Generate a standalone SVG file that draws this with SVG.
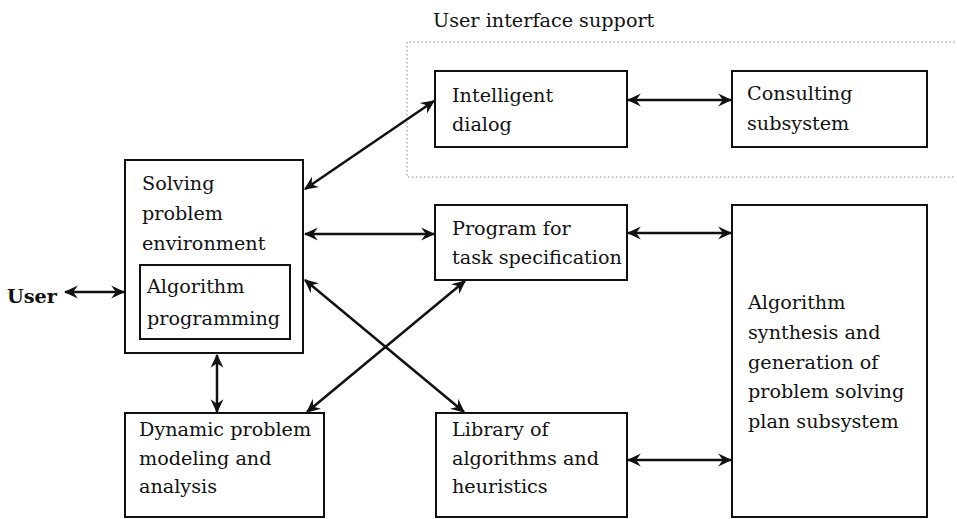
<svg xmlns="http://www.w3.org/2000/svg" width="957" height="519" viewBox="0 0 957 519">
<style>
text{font-family:'DejaVu Serif','Liberation Serif',serif;font-size:19.2px;fill:#111}
.b{font-weight:bold}
.box{fill:#fff;stroke:#111;stroke-width:2}
.c{fill:none;stroke:#111;stroke-width:2.5;marker-start:url(#ah);marker-end:url(#ah)}
.dot{fill:none;stroke:#888;stroke-width:1;stroke-dasharray:1.5 2.5}
</style>
<defs>
<marker id="ah" viewBox="0 0 12 12" refX="11" refY="6" markerWidth="14" markerHeight="14" markerUnits="userSpaceOnUse" orient="auto-start-reverse">
<path d="M0,0.5 L12,6 L0,11.5 L4,6 z" fill="#111"/>
</marker>
</defs>
<rect width="957" height="519" fill="#fff"/>
<g id="ui-support">
<path class="dot" d="M955,42 H407 V177 H955"/>
<text x="433" y="27">User interface support</text>
</g>
<g id="connectors">
<line class="c" x1="65" y1="292" x2="124" y2="292"/>
<line class="c" x1="305" y1="189" x2="434" y2="101"/>
<line class="c" x1="305" y1="234" x2="434" y2="234"/>
<line class="c" x1="628" y1="100" x2="731" y2="100"/>
<line class="c" x1="628" y1="233" x2="731" y2="233"/>
<line class="c" x1="628" y1="460" x2="731" y2="460"/>
<line class="c" x1="217" y1="355" x2="217" y2="412"/>
<line class="c" x1="305" y1="280" x2="464" y2="412"/>
<line class="c" x1="465" y1="281" x2="307" y2="412"/>
</g>
<g id="user">
<text class="b" x="7" y="303">User</text>
</g>
<g id="solving">
<rect class="box" x="125" y="160" width="178" height="193"/>
<text x="142" y="190">Solving</text>
<text x="142" y="220">problem</text>
<text x="142" y="250">environment</text>
</g>
<g id="algprog">
<rect class="box" x="140" y="265" width="150" height="74"/>
<text x="147" y="293">Algorithm</text>
<text x="147" y="325">programming</text>
</g>
<g id="dialog">
<rect class="box" x="435" y="71" width="192" height="76"/>
<text x="452" y="102">Intelligent</text>
<text x="452" y="131">dialog</text>
</g>
<g id="consulting">
<rect class="box" x="732" y="71" width="195" height="76"/>
<text x="747" y="100">Consulting</text>
<text x="747" y="130">subsystem</text>
</g>
<g id="program">
<rect class="box" x="435" y="205" width="192" height="75"/>
<text x="452" y="235">Program for</text>
<text x="452" y="264">task specification</text>
</g>
<g id="synthesis">
<rect class="box" x="732" y="205" width="195" height="312"/>
<text x="748" y="309">Algorithm</text>
<text x="748" y="339">synthesis and</text>
<text x="748" y="369">generation of</text>
<text x="748" y="398">problem solving</text>
<text x="748" y="428">plan subsystem</text>
</g>
<g id="dynamic">
<rect class="box" x="125" y="413" width="199" height="104"/>
<text x="139" y="436">Dynamic problem</text>
<text x="139" y="465">modeling and</text>
<text x="139" y="493">analysis</text>
</g>
<g id="library">
<rect class="box" x="436" y="413" width="191" height="104"/>
<text x="452" y="436">Library of</text>
<text x="452" y="465">algorithms and</text>
<text x="452" y="493">heuristics</text>
</g>
</svg>
